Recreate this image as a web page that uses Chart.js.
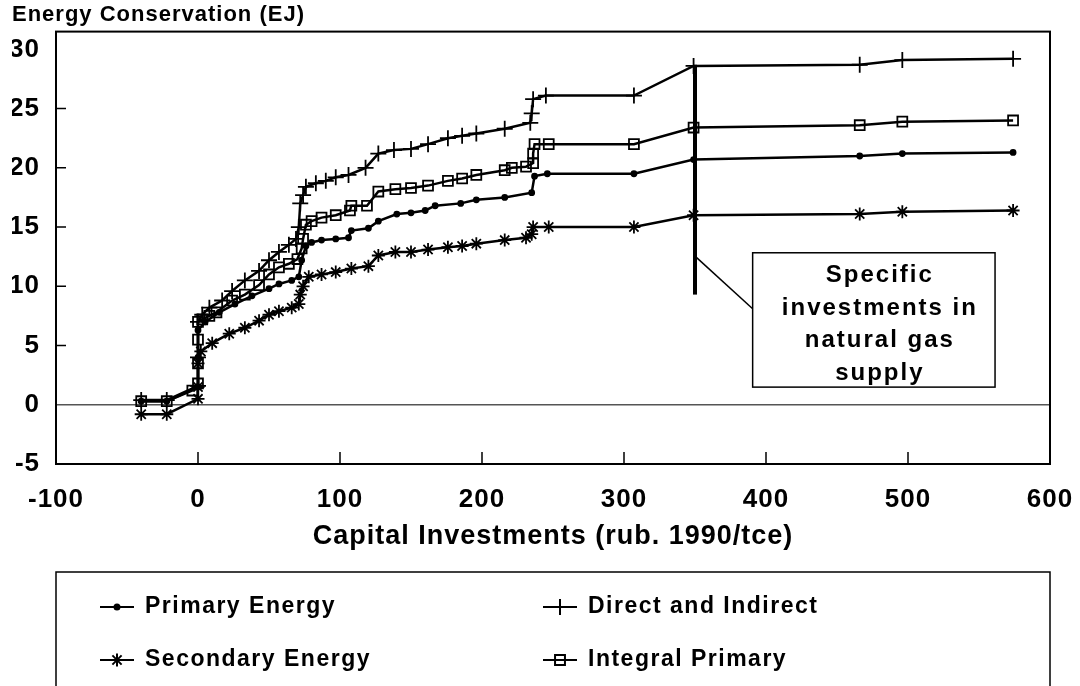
<!DOCTYPE html>
<html>
<head>
<meta charset="utf-8">
<script src="https://cdn.jsdelivr.net/npm/chart.js@4.4.0/dist/chart.umd.min.js"></script>
<style>
  html, body { margin: 0; padding: 0; background: #fff; }
</style>
</head>
<body>
<canvas id="myChart" width="1080" height="686"></canvas>
<script>
// values (x = rub. 1990/tce, y = EJ)
const primaryX = [-40, -22, 0, 0, 0, 5, 15, 26, 38, 50, 57, 66, 71, 73, 76, 80, 87, 97, 106, 108, 120, 127, 140, 150, 160, 167, 185, 196, 216, 235, 237, 246, 307, 349, 466, 496, 574];
const primaryY = [0.3, 0.3, 1.5, 4.0, 6.3, 7.0, 7.8, 8.5, 9.2, 9.8, 10.2, 10.5, 10.8, 12.2, 13.4, 13.7, 13.9, 14.0, 14.1, 14.7, 14.9, 15.5, 16.1, 16.2, 16.4, 16.8, 17.0, 17.3, 17.5, 17.9, 19.3, 19.5, 19.5, 20.7, 21.0, 21.2, 21.3];

const secondaryX = [-40, -22, 0, 0, 0, 2, 10, 22, 33, 43, 50, 57, 66, 71, 72, 74, 78, 87, 97, 108, 120, 127, 139, 150, 162, 176, 186, 196, 216, 231, 235, 236, 247, 307, 349, 466, 496, 574];
const secondaryY = [-0.8, -0.8, 0.5, 1.5, 3.5, 4.5, 5.2, 6.0, 6.5, 7.1, 7.6, 7.9, 8.2, 8.5, 9.3, 10.0, 10.8, 11.0, 11.2, 11.5, 11.7, 12.6, 12.9, 12.9, 13.1, 13.3, 13.4, 13.6, 13.9, 14.1, 14.4, 15.0, 15.0, 15.0, 16.0, 16.1, 16.3, 16.4];

const directX = [-40, -22, 0, 0, 0, 3, 8, 17, 24, 33, 43, 50, 57, 64, 69, 71, 72, 74, 76, 83, 90, 97, 106, 118, 127, 138, 150, 162, 176, 186, 196, 216, 234, 235, 236, 245, 307, 349, 466, 496, 574];
const directY = [0.4, 0.4, 1.6, 4.0, 7.0, 7.6, 8.2, 8.8, 9.6, 10.5, 11.3, 12.2, 12.9, 13.5, 14.0, 15.0, 17.0, 17.7, 18.4, 18.7, 18.9, 19.2, 19.4, 20.0, 21.2, 21.5, 21.6, 22.0, 22.5, 22.7, 22.9, 23.3, 23.8, 24.6, 25.8, 26.1, 26.1, 28.6, 28.7, 29.1, 29.2];

const integralX = [-40, -22, -4, 0, 0, 0, 0, 3, 8, 13, 24, 33, 43, 50, 57, 64, 70, 73, 74, 76, 80, 87, 97, 107, 108, 119, 127, 139, 150, 162, 176, 186, 196, 216, 221, 231, 236, 236, 237, 247, 307, 349, 466, 496, 574];
const integralY = [0.3, 0.3, 1.2, 1.8, 3.5, 5.5, 7.0, 7.2, 7.5, 7.8, 8.8, 9.3, 10.1, 11.0, 11.6, 11.9, 12.3, 13.2, 14.0, 15.2, 15.5, 15.8, 16.0, 16.4, 16.8, 16.8, 18.0, 18.2, 18.3, 18.5, 18.9, 19.1, 19.4, 19.8, 20.0, 20.1, 20.4, 21.2, 22.0, 22.0, 22.0, 23.4, 23.6, 23.9, 24.0];

// the vertical bar for natural gas supply and its callout
const gasX = 350;
const gasTop = 28.7;
const gasBottom = 9.3;
const gasNote = ['Specific', 'investments in', 'natural gas', 'supply'];

const fontFamily = '"Liberation Sans", Arial, Helvetica, sans-serif';
Chart.defaults.font.family = fontFamily;
Chart.defaults.color = '#000';

function pairs(xs, ys) {
    return xs.map((x, i) => ({ x: x, y: ys[i] }));
}

function seriesStyle(style, radius, fill) {
    return {
        borderColor: '#000',
        borderWidth: 2.5,
        tension: 0,
        pointStyle: style,
        pointRadius: radius,
        pointBorderColor: '#000',
        pointBackgroundColor: fill,
        pointBorderWidth: 1.8
    };
}

// the scan's lettering is spaced out a little
const spacing = {
    id: 'spacing',
    beforeDraw(chart) {
        chart.ctx.letterSpacing = '1px';
    }
};

// full frame + inward tick marks
const frame = {
    id: 'frame',
    afterDatasetsDraw(chart) {
        const { ctx, chartArea: a, scales: { x, y } } = chart;
        ctx.save();
        ctx.strokeStyle = '#000';
        ctx.lineWidth = 2;
        ctx.strokeRect(a.left, a.top, a.right - a.left, a.bottom - a.top);
        ctx.lineWidth = 1.5;
        ctx.beginPath();
        x.ticks.forEach(t => {
            if (t.value <= x.min || t.value >= x.max) return;
            const px = x.getPixelForValue(t.value);
            ctx.moveTo(px, a.bottom);
            ctx.lineTo(px, a.bottom - 12);
        });
        y.ticks.forEach(t => {
            if (t.value <= 0 || t.value >= 30) return;
            const py = y.getPixelForValue(t.value);
            ctx.moveTo(a.left, py);
            ctx.lineTo(a.left + 10, py);
        });
        ctx.stroke();
        ctx.restore();
    }
};

const gasCallout = {
    id: 'gasCallout',
    afterDatasetsDraw(chart) {
        const { ctx, scales: { x, y } } = chart;
        const gx = x.getPixelForValue(gasX);
        ctx.save();
        ctx.strokeStyle = '#000';
        ctx.lineWidth = 4;
        ctx.beginPath();
        ctx.moveTo(gx, y.getPixelForValue(gasTop));
        ctx.lineTo(gx, y.getPixelForValue(gasBottom));
        ctx.stroke();

        const left = x.getPixelForValue(390.6);
        const right = x.getPixelForValue(561.3);
        const top = y.getPixelForValue(12.83);
        const bottom = y.getPixelForValue(1.49);
        ctx.lineWidth = 1.5;
        ctx.beginPath();
        ctx.moveTo(gx, y.getPixelForValue(12.55));
        ctx.lineTo(left, y.getPixelForValue(8.1));
        ctx.stroke();
        ctx.fillStyle = '#fff';
        ctx.fillRect(left, top, right - left, bottom - top);
        ctx.strokeRect(left, top, right - left, bottom - top);

        ctx.fillStyle = '#000';
        ctx.font = 'bold 24px ' + fontFamily;
        ctx.letterSpacing = '2px';
        ctx.textAlign = 'center';
        ctx.textBaseline = 'middle';
        gasNote.forEach((line, i) => {
            ctx.fillText(line, (left + right) / 2 + 6, top + 23 + i * 32.5);
        });
        ctx.restore();
    }
};

// boxed legend under the axis title, two columns
const boxedLegend = {
    id: 'boxedLegend',
    afterDraw(chart) {
        const { ctx, chartArea: a } = chart;
        ctx.save();
        ctx.strokeStyle = '#000';
        ctx.lineWidth = 1.5;
        ctx.strokeRect(a.left, 572, a.right - a.left, 140);

        const cols = [100, 543];
        const rows = [607, 660];
        chart.data.datasets.forEach((ds, i) => {
            const sx = cols[Math.floor(i / 2)];
            const sy = rows[i % 2];
            ctx.strokeStyle = '#000';
            ctx.fillStyle = ds.pointBackgroundColor;
            ctx.lineWidth = 2;
            ctx.beginPath();
            ctx.moveTo(sx, sy);
            ctx.lineTo(sx + 34, sy);
            ctx.stroke();
            Chart.helpers.drawPoint(ctx, {
                pointStyle: ds.pointStyle,
                radius: ds.pointRadius,
                borderWidth: ds.pointBorderWidth,
                rotation: 0
            }, sx + 17, sy);
            ctx.fillStyle = '#000';
            ctx.font = 'bold 23px ' + fontFamily;
            ctx.letterSpacing = '1.5px';
            ctx.textAlign = 'left';
            ctx.textBaseline = 'middle';
            ctx.fillText(ds.label, sx + 45, sy);
        });
        ctx.restore();
    }
};

const ctx = document.getElementById('myChart').getContext('2d');
const chart = new Chart(ctx, {
    type: 'line',
    data: {
        datasets: [
            Object.assign({ label: 'Primary Energy', data: pairs(primaryX, primaryY) }, seriesStyle('circle', 2.5, '#000')),
            Object.assign({ label: 'Secondary Energy', data: pairs(secondaryX, secondaryY) }, seriesStyle('star', 6.5, '#000')),
            Object.assign({ label: 'Direct and Indirect', data: pairs(directX, directY) }, seriesStyle('cross', 8, '#000')),
            Object.assign({ label: 'Integral Primary', data: pairs(integralX, integralY) }, seriesStyle('rect', 7, 'rgba(0,0,0,0)'))
        ]
    },
    options: {
        responsive: false,
        animation: false,
        events: [],
        layout: { padding: { left: 12, right: 30, top: 0, bottom: 0 } },
        plugins: {
            legend: { display: false },
            tooltip: { enabled: false },
            title: {
                display: true,
                text: 'Energy Conservation (EJ)',
                align: 'start',
                color: '#000',
                font: { size: 22, weight: 'bold' },
                padding: { top: 0, bottom: 3 }
            }
        },
        scales: {
            x: {
                type: 'linear',
                min: -100,
                max: 600,
                ticks: { stepSize: 100, font: { size: 26, weight: 'bold' }, padding: 20, color: '#000' },
                grid: { display: false, drawTicks: false },
                border: { display: false },
                title: {
                    display: true,
                    text: 'Capital Investments (rub. 1990/tce)',
                    color: '#000',
                    font: { size: 27, weight: 'bold' },
                    padding: { top: 0, bottom: 133 }
                },
                afterFit(scale) {
                    scale.height = 222;
                    scale.paddingLeft = 0;
                    scale.paddingRight = 0;
                }
            },
            y: {
                min: -5,
                max: 31.5,
                ticks: { stepSize: 5, includeBounds: false, font: { size: 26, weight: 'bold' }, padding: 16, color: '#000' },
                grid: {
                    drawTicks: false,
                    lineWidth: 1.5,
                    color: c => (c.tick && c.tick.value === 0 ? '#555' : 'rgba(0,0,0,0)')
                },
                border: { display: false },
                afterFit(scale) { scale.width = 44; }
            }
        }
    },
    plugins: [spacing, frame, gasCallout, boxedLegend]
});
</script>
</body>
</html>
